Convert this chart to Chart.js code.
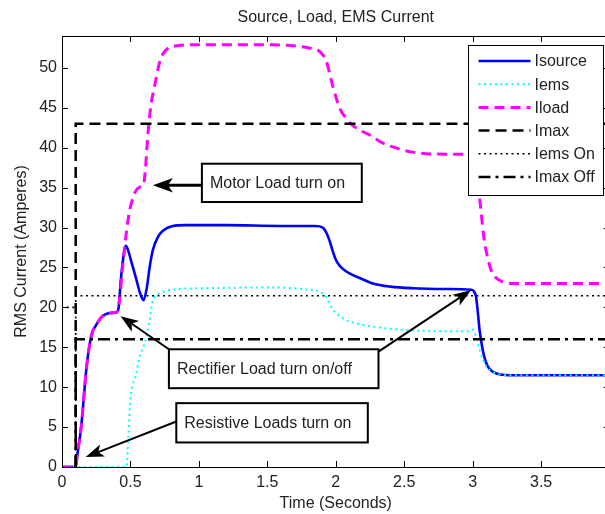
<!DOCTYPE html>
<html>
<head>
<meta charset="utf-8">
<title>Source, Load, EMS Current</title>
<script src="https://cdn.jsdelivr.net/npm/chart.js@4.4.1/dist/chart.umd.min.js"></script>
<style>
    html, body { margin: 0; padding: 0; background: #fff; overflow: hidden; }
    #wrap { width: 605px; height: 514px; overflow: hidden; }
    canvas { display: block; }
</style>
</head>
<body>
<div id="wrap"><canvas id="chart" width="620" height="514"></canvas></div>
<script>
// tick values
const xTicks = [0, 0.5, 1, 1.5, 2, 2.5, 3, 3.5, 4];
const yTicks = [0, 5, 10, 15, 20, 25, 30, 35, 40, 45, 50];

// Isource
const sourceTime = [0, 0.1, 0.11, 0.14, 0.18, 0.215, 0.25, 0.29, 0.35, 0.4, 0.414, 0.43, 0.45, 0.465,
    0.48, 0.51, 0.543, 0.57, 0.596, 0.62, 0.64, 0.664, 0.7, 0.737, 0.81, 0.9, 1.2, 1.6, 1.85, 1.905,
    1.93, 1.954, 1.975, 1.995, 2.02, 2.06, 2.1, 2.2, 2.27, 2.4, 2.56, 2.8, 2.99, 3.01, 3.025, 3.04, 3.05,
    3.07, 3.085, 3.11, 3.146, 3.2, 3.29, 4];
const sourceAmps = [0, 0, 1.3, 5, 12.6, 16.5, 17.8, 18.8, 19.3, 19.4, 20, 23.5, 26.5, 27.7,
    27.3, 25.5, 23.5, 21.8, 20.9, 22.5, 25, 27.2, 28.8, 29.6, 30.2, 30.3, 30.3, 30.2, 30.2, 30.0,
    29.4, 28.4, 27.2, 26.2, 25.4, 24.7, 24.25, 23.5, 23, 22.6, 22.4, 22.3, 22.2, 22, 21.3, 19, 17.2,
    15, 13.8, 12.6, 11.95, 11.6, 11.5, 11.5];

// Iems
const emsTime = [0, 0.47, 0.485, 0.5, 0.54, 0.567, 0.604, 0.64, 0.664, 0.7, 0.8, 1.05, 1.5, 1.75,
    1.905, 1.94, 1.98, 2.03, 2.076, 2.197, 2.44, 2.976, 3.0, 3.025, 3.05, 3.1, 3.17, 3.25, 4];
const emsAmps = [0, 0, 4, 8.5, 11.5, 13.8, 15.5, 18.4, 20.9, 21.6, 22.2, 22.4, 22.5, 22.3,
    21.75, 21, 19.7, 18.9, 18.4, 17.8, 17.25, 17.0, 17.2, 16.3, 14.7, 12.6, 11.75, 11.5, 11.5];

// Iload
const loadTime = [0, 0.1, 0.11, 0.14, 0.18, 0.215, 0.25, 0.29, 0.35, 0.4, 0.42, 0.44, 0.458, 0.49,
    0.52, 0.543, 0.57, 0.596, 0.61, 0.628, 0.652, 0.675, 0.689, 0.71, 0.737, 0.77, 0.81, 1.0, 1.5,
    1.735, 1.83, 1.88, 1.93, 1.955, 1.98, 2.03, 2.08, 2.124, 2.2, 2.27, 2.32, 2.4, 2.56, 2.8, 2.98,
    3.01, 3.03, 3.05, 3.085, 3.11, 3.134, 3.17, 3.22, 3.3, 4];
const loadAmps = [0, 0, 1.3, 5, 12.6, 16.5, 17.8, 18.8, 19.3, 19.4, 20.9, 24.5, 27.6, 31.75,
    33.8, 34.7, 35.1, 35.4, 37.5, 41.75, 45.6, 47.6, 48.8, 50.5, 51.75, 52.4, 52.7, 52.9, 52.9,
    52.7, 52.4, 52.1, 50.9, 49.3, 47.6, 44.9, 43.6, 42.8, 42, 41.4, 40.8, 40.2, 39.45, 39.2, 39.2,
    38.7, 36.5, 33.8, 28.4, 26.2, 24.7, 23.7, 23.2, 23, 23];

// limit lines
const imaxTime = [0.1, 0.1, 4];
const imaxAmps = [0, 43, 43];
const emsOnTime = [0.035, 0.1, 0.1, 0.1, 0.1, 4];
const emsOnAmps = [20, 20, null, 0, 21.45, 21.45];
const imaxOffTime = [0.1, 0.1, 4];
const imaxOffAmps = [0, 16, 16];

const toPoints = (ts, vs) => ts.map((t, i) => ({ x: t, y: vs[i] }));

const FONT = '"Liberation Sans", Arial, Helvetica, sans-serif';
const INK = '#222';
const TITLE = 'Source, Load, EMS Current';

// text boxes with arrows, in data units
const notes = [
    {
        text: 'Motor Load turn on', box: [1.022, 2.19, 38.0, 33.2],
        arrows: [{ from: [1.022, 35.3], to: [0.664, 35.3], width: 3, head: 20 }]
    },
    {
        text: 'Rectifier Load turn on/off', box: [0.781, 2.312, 14.75, 9.875],
        arrows: [
            { from: [0.781, 14.75], to: [0.428, 18.9], width: 2, head: 18 },
            { from: [2.312, 14.45], to: [2.988, 22.16], width: 2, head: 18 }
        ]
    },
    {
        text: 'Resistive Loads turn on', box: [0.835, 2.234, 8.0, 3.075],
        arrows: [{ from: [0.835, 5.7], to: [0.173, 1.25], width: 2, head: 18 }]
    }
];

function drawArrow(ctx, x1, y1, x2, y2, width, head) {
    const ang = Math.atan2(y2 - y1, x2 - x1);
    const cos = Math.cos(ang), sin = Math.sin(ang);
    const bx = x2 - cos * head * 0.75, by = y2 - sin * head * 0.75;
    ctx.lineWidth = width;
    ctx.beginPath();
    ctx.moveTo(x1, y1);
    ctx.lineTo(bx, by);
    ctx.stroke();
    const hw = head * 0.36;
    const backX = x2 - cos * head, backY = y2 - sin * head;
    ctx.beginPath();
    ctx.moveTo(x2, y2);
    ctx.lineTo(backX - sin * hw, backY + cos * hw);
    ctx.lineTo(bx, by);
    ctx.lineTo(backX + sin * hw, backY - cos * hw);
    ctx.closePath();
    ctx.fill();
}

const matlabPlugin = {
    id: 'matlabLook',
    afterDatasetsDraw(chart) {
        const { ctx, chartArea: a, scales: { x, y } } = chart;
        ctx.save();

        // title centred over the axes, like matlab does
        ctx.font = '16px ' + FONT;
        ctx.fillStyle = INK;
        ctx.textAlign = 'center';
        ctx.textBaseline = 'middle';
        ctx.fillText(TITLE, (a.left + a.right) / 2, 18);

        // axes box and inward ticks
        ctx.strokeStyle = '#000';
        ctx.lineWidth = 1;
        ctx.setLineDash([]);
        ctx.beginPath();
        ctx.rect(Math.round(a.left) + 0.5, Math.round(a.top) + 0.5,
            Math.round(a.right - a.left) - 1, Math.round(a.bottom - a.top));
        xTicks.forEach(v => {
            const px = Math.round(x.getPixelForValue(v)) + 0.5;
            ctx.moveTo(px, a.bottom); ctx.lineTo(px, a.bottom - 6);
            ctx.moveTo(px, a.top); ctx.lineTo(px, a.top + 6);
        });
        yTicks.forEach(v => {
            const py = Math.round(y.getPixelForValue(v)) + 0.5;
            ctx.moveTo(a.left, py); ctx.lineTo(a.left + 6, py);
            ctx.moveTo(a.right, py); ctx.lineTo(a.right - 6, py);
        });
        ctx.stroke();

        // annotations
        ctx.textAlign = 'left';
        notes.forEach(n => {
            ctx.strokeStyle = '#000';
            ctx.fillStyle = '#000';
            n.arrows.forEach(ar => {
                drawArrow(ctx, x.getPixelForValue(ar.from[0]), y.getPixelForValue(ar.from[1]),
                    x.getPixelForValue(ar.to[0]), y.getPixelForValue(ar.to[1]), ar.width, ar.head);
            });
            const l = x.getPixelForValue(n.box[0]), r = x.getPixelForValue(n.box[1]);
            const t = y.getPixelForValue(n.box[2]), b = y.getPixelForValue(n.box[3]);
            ctx.fillStyle = '#fff';
            ctx.fillRect(l, t, r - l, b - t);
            ctx.lineWidth = 2;
            ctx.strokeRect(l, t, r - l, b - t);
            ctx.fillStyle = INK;
            ctx.fillText(n.text, l + 8, (t + b) / 2 + 1);
        });

        // legend box, top right inside the axes
        const lx = 468.5, ly = 45.5, lw = 135, lh = 150;
        ctx.fillStyle = '#fff';
        ctx.fillRect(lx, ly, lw, lh);
        ctx.lineWidth = 1;
        ctx.strokeStyle = '#000';
        ctx.strokeRect(lx, ly, lw, lh);
        chart.data.datasets.forEach((ds, i) => {
            const rowY = ly + 15.5 + i * 23.2;
            ctx.save();
            ctx.strokeStyle = ds.borderColor;
            ctx.lineWidth = ds.borderWidth;
            ctx.setLineDash(ds.borderDash || []);
            ctx.beginPath();
            ctx.moveTo(lx + 10, rowY);
            ctx.lineTo(lx + 62, rowY);
            ctx.stroke();
            ctx.restore();
            ctx.fillStyle = INK;
            ctx.fillText(ds.label, lx + 66, rowY + 1);
        });
        ctx.restore();
    }
};

const lineDefaults = { pointRadius: 0, tension: 0, fill: false, borderCapStyle: 'butt', spanGaps: false };
const smooth = { cubicInterpolationMode: 'monotone' };

new Chart(document.getElementById('chart'), {
    type: 'line',
    data: {
        datasets: [
            { ...lineDefaults, ...smooth, label: 'Isource', data: toPoints(sourceTime, sourceAmps),
              borderColor: '#0000ff', borderWidth: 2.6, order: 6 },
            { ...lineDefaults, ...smooth, label: 'Iems', data: toPoints(emsTime, emsAmps),
              borderColor: '#00ffff', borderWidth: 2, borderDash: [2, 3.5], order: 5 },
            { ...lineDefaults, ...smooth, label: 'Iload', data: toPoints(loadTime, loadAmps),
              borderColor: '#ff00ff', borderWidth: 3, borderDash: [10, 6], order: 4 },
            { ...lineDefaults, label: 'Imax', data: toPoints(imaxTime, imaxAmps),
              borderColor: '#000000', borderWidth: 2.5, borderDash: [11, 6], order: 3 },
            { ...lineDefaults, label: 'Iems On', data: toPoints(emsOnTime, emsOnAmps),
              borderColor: '#000000', borderWidth: 1.6, borderDash: [2, 3.5], order: 2 },
            { ...lineDefaults, label: 'Imax Off', data: toPoints(imaxOffTime, imaxOffAmps),
              borderColor: '#000000', borderWidth: 2.5, borderDash: [12, 5, 3, 5], order: 1 }
        ]
    },
    options: {
        responsive: false,
        animation: false,
        events: [],
        layout: { padding: { left: 0, right: 10, top: 36, bottom: 0 } },
        plugins: {
            legend: { display: false },
            tooltip: { enabled: false },
            title: { display: false }
        },
        scales: {
            x: {
                type: 'linear',
                min: 0,
                max: 4,
                afterBuildTicks: (scale) => { scale.ticks = xTicks.map(v => ({ value: v })); },
                afterFit: (scale) => { scale.height = 47; },
                grid: { display: false, drawTicks: false },
                border: { display: false },
                ticks: {
                    color: INK,
                    padding: 6,
                    maxRotation: 0,
                    font: { family: FONT, size: 16 },
                    callback: (v) => String(v)
                },
                title: {
                    display: true,
                    text: 'Time (Seconds)',
                    color: INK,
                    font: { family: FONT, size: 16 },
                    padding: { top: 0, bottom: 1 }
                }
            },
            y: {
                type: 'linear',
                min: 0,
                max: 54,
                afterBuildTicks: (scale) => { scale.ticks = yTicks.map(v => ({ value: v })); },
                afterFit: (scale) => { scale.width = 62; },
                grid: { display: false, drawTicks: false },
                border: { display: false },
                ticks: {
                    color: INK,
                    padding: 5,
                    font: { family: FONT, size: 16 },
                    callback: (v) => String(v)
                },
                title: {
                    display: true,
                    text: 'RMS Current (Amperes)',
                    color: INK,
                    font: { family: FONT, size: 16 },
                    padding: { top: 12, bottom: 0 }
                }
            }
        }
    },
    plugins: [matlabPlugin]
});
</script>
</body>
</html>
